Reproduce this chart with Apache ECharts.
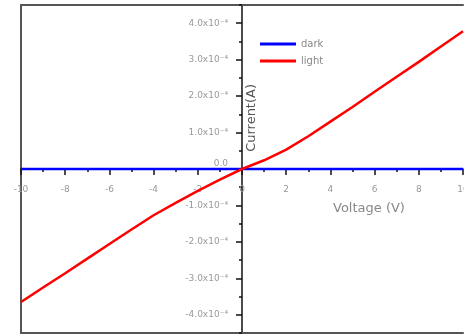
<!DOCTYPE html>
<html><head><meta charset="utf-8">
<script src="https://cdn.jsdelivr.net/npm/echarts@6/dist/echarts.min.js"></script>
<style>html,body{margin:0;padding:0;background:#fff}#c{width:464px;height:335px}</style>
</head><body><div id="c"></div>
<script>
// Data (Voltage in V, Current in units of 10^-4 A)
var voltage = [-10,-9,-8,-7,-6,-5,-4,-3,-2,-1,0,1,2,3,4,5,6,7,8,9,10];
var lightCurrent = [-3.65,-3.25,-2.86,-2.46,-2.06,-1.66,-1.27,-0.93,-0.6,-0.29,0,0.24,0.53,0.9,1.3,1.7,2.12,2.53,2.94,3.36,3.78];
var darkCurrent = [0,0,0,0,0,0,0,0,0,0,0,0,0,0,0,0,0,0,0,0,0];
var yTickValues = [-4,-3,-2,-1,0,1,2,3,4];
var yMinorValues = [-4.5,-3.5,-2.5,-1.5,-0.5,0.5,1.5,2.5,3.5,4.5];
var yLabels = {'-4':'-4.0x10⁻⁴','-3':'-3.0x10⁻⁴','-2':'-2.0x10⁻⁴','-1':'-1.0x10⁻⁴','0':'0.0','1':'1.0x10⁻⁴','2':'2.0x10⁻⁴','3':'3.0x10⁻⁴','4':'4.0x10⁻⁴'};

function pairs(xs, ys){ return xs.map(function(x,i){return [x, ys[i]];}); }

var chart = echarts.init(document.getElementById('c'));
var font = 'DejaVu Sans';
var axisColor = '#111';
var frame = {color: '#555', width: 2};
var gridOpt = {left: 21, right: 1, top: 5, bottom: 2, containLabel: false, outerBoundsMode: 'none'};

function build(xOff, yOff){
  return {
    animation: false,
    grid: gridOpt,
    legend: {
      data: ['dark','light'], orient: 'vertical', left: 255, top: 34,
      icon: 'rect', itemWidth: 36, itemHeight: 3, itemGap: 7,
      textStyle: {color: '#888', fontSize: 10, fontFamily: font}
    },
    xAxis: [
      {type: 'value', min: -10, max: 10, interval: 2, position: 'bottom', offset: xOff,
       axisLine: {onZero: false, lineStyle: {color: axisColor, width: 1.5}},
       axisTick: {show: true, inside: false, length: 6, lineStyle: {color: axisColor, width: 1.5}},
       minorTick: {show: true, splitNumber: 2, length: 3, lineStyle: {color: axisColor, width: 1.5}},
       splitLine: {show: false},
       axisLabel: {color: '#999', fontSize: 9, fontFamily: font, margin: 16, showMinLabel: true, showMaxLabel: true, align: 'center'}
      },
      {type: 'value', min: -10, max: 10, position: 'top',
       axisLine: {onZero: false, lineStyle: frame},
       axisTick: {show: false}, axisLabel: {show: false}, splitLine: {show: false}},
      {type: 'value', min: -10, max: 10, position: 'bottom',
       axisLine: {onZero: false, lineStyle: frame},
       axisTick: {show: false}, axisLabel: {show: false}, splitLine: {show: false}}
    ],
    yAxis: [
      {type: 'value', min: -4.5, max: 4.5, position: 'left', offset: yOff,
       axisLine: {onZero: false, lineStyle: {color: axisColor, width: 1.5}},
       axisTick: {show: true, inside: false, length: 6, customValues: yTickValues, lineStyle: {color: axisColor, width: 1.5}},
       splitLine: {show: false},
       axisLabel: {customValues: yTickValues, color: '#999', fontSize: 9, fontFamily: font, margin: 14,
         formatter: function(v){ var k = String(Math.round(v)); return v === 0 ? '{z|0.0}' : yLabels[k]; },
         rich: {z: {color: '#999', fontSize: 9, fontFamily: font, padding: [0,0,10,0]}}}
      },
      {type: 'value', min: -4.5, max: 4.5, position: 'left', offset: yOff,
       axisLine: {show: false, onZero: false},
       axisTick: {show: true, inside: false, length: 3, customValues: yMinorValues, lineStyle: {color: axisColor, width: 1.5}},
       axisLabel: {show: false}, splitLine: {show: false}},
      {type: 'value', min: -4.5, max: 4.5, position: 'left',
       axisLine: {onZero: false, lineStyle: frame},
       axisTick: {show: false}, axisLabel: {show: false}, splitLine: {show: false}}
    ],
    graphic: [
      {type: 'text', left: 245, top: 84, rotation: Math.PI/2,
       style: {text: 'Current(A)', fill: '#555', fontSize: 13, fontFamily: font}},
      {type: 'text', left: 333, top: 202,
       style: {text: 'Voltage (V)', fill: '#888', fontSize: 13, fontFamily: font}}
    ],
    series: [
      {name: 'dark', type: 'line', data: pairs(voltage, darkCurrent), xAxisIndex: 0, yAxisIndex: 0,
       showSymbol: false, color: '#0000ff', lineStyle: {color: '#0000ff', width: 2.5}, z: 5},
      {name: 'light', type: 'line', data: pairs(voltage, lightCurrent), xAxisIndex: 0, yAxisIndex: 0,
       showSymbol: false, color: '#ff0000', lineStyle: {color: '#ff0000', width: 2.5}, z: 6}
    ]
  };
}

chart.setOption(build(0, 0));
// Place the main axes so they cross at the origin (like onZero), using the chart's own scales.
var origin = chart.convertToPixel({xAxisIndex: 0, yAxisIndex: 0}, [0, 0]);
var leftEdge = chart.convertToPixel({xAxisIndex: 0}, -10);
var bottomEdge = chart.convertToPixel({yAxisIndex: 0}, -4.5);
chart.setOption(build(origin[1] - bottomEdge, leftEdge - origin[0]));
</script></body></html>
